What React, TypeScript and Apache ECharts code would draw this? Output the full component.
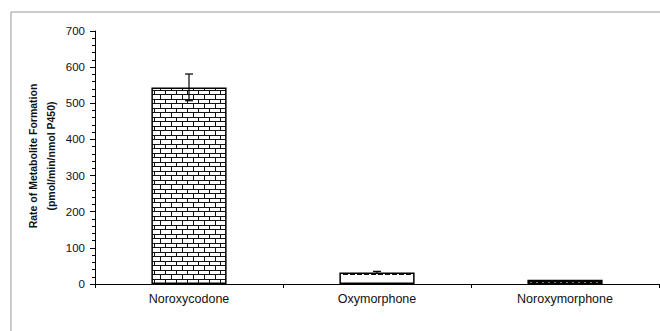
import React, { useEffect, useRef } from "react";
import * as echarts from "echarts";

const categories = ["Noroxycodone", "Oxymorphone", "Noroxymorphone"];
const rates = [544, 32, 12];
const errors = [37, 3, 0];
const yTicks = [0, 100, 200, 300, 400, 500, 600, 700];
const titleLines = ["Rate of Metabolite Formation", "(pmol/min/nmol P450)"];

const svgUrl = (s: string) => "data:image/svg+xml;charset=utf-8," + encodeURIComponent(s);

const brick = svgUrl(
  "<svg xmlns='http://www.w3.org/2000/svg' width='11' height='9'>" +
    "<rect width='11' height='9' fill='#fff'/>" +
    "<g stroke='#111' stroke-width='1' shape-rendering='crispEdges'>" +
    "<line x1='0' y1='0.5' x2='11' y2='0.5'/>" +
    "<line x1='0' y1='4.5' x2='11' y2='4.5'/>" +
    "<line x1='0.5' y1='0' x2='0.5' y2='4.5'/>" +
    "<line x1='6' y1='4.5' x2='6' y2='9'/>" +
    "</g></svg>"
);
const dashed = svgUrl(
  "<svg xmlns='http://www.w3.org/2000/svg' width='7' height='10'>" +
    "<rect width='7' height='10' fill='#fff'/>" +
    "<rect x='0' y='4' width='5' height='1' fill='#111'/>" +
    "</svg>"
);
const dotted = svgUrl(
  "<svg xmlns='http://www.w3.org/2000/svg' width='6' height='5'>" +
    "<rect width='6' height='5' fill='#000'/>" +
    "<rect x='2' y='2' width='2' height='1' fill='#fff'/>" +
    "</svg>"
);

const patterns = [
  { image: brick, imageWidth: 11, imageHeight: 9 },
  { image: dashed, imageWidth: 7, imageHeight: 10 },
  { image: dotted, imageWidth: 6, imageHeight: 5 },
];

export default function App() {
  const ref = useRef<HTMLDivElement>(null);
  useEffect(() => {
    document.body.style.margin = "0";
    if (!ref.current) return;
    const chart = echarts.init(ref.current, null, { renderer: "svg" });
    const font = "'Liberation Sans', Arial, sans-serif";
    chart.setOption({
      animation: false,
      backgroundColor: "#fff",
      grid: { left: 95, right: 1, top: 31, bottom: 47, containLabel: false },
      xAxis: {
        type: "category",
        data: categories,
        axisLine: { lineStyle: { color: "#000", width: 1 } },
        axisTick: { show: true, length: 4, lineStyle: { color: "#000" } },
        axisLabel: { color: "#111", fontFamily: font, fontSize: 12.5, margin: 8 },
      },
      yAxis: {
        type: "value",
        min: 0,
        max: 700,
        interval: 100,
        splitLine: { show: false },
        axisLine: { show: true, lineStyle: { color: "#000", width: 1 } },
        axisTick: { show: true, length: 5, lineStyle: { color: "#000" } },
        minorTick: { show: true, splitNumber: 5, length: 3, lineStyle: { color: "#000" } },
        axisLabel: {
          color: "#111",
          fontFamily: font,
          fontSize: 11.5,
          margin: 10,
          formatter: (v: number) => (yTicks.includes(v) ? String(v) : ""),
        },
      },
      graphic: [
        {
          type: "rect",
          shape: { x: 11, y: 12, width: 800, height: 500 },
          style: { fill: "none", stroke: "#999", lineWidth: 1 },
          z: -1,
          silent: true,
        },
        ...titleLines.map((t, i) => ({
          type: "text",
          x: 33 + i * 18,
          y: 156,
          rotation: Math.PI / 2,
          style: {
            text: t,
            fontFamily: font,
            fontWeight: "bold",
            fontSize: 10.5,
            fill: "#111",
            align: "center",
            verticalAlign: "middle",
          },
        })),
      ],
      series: [
        {
          type: "bar",
          barWidth: "40%",
          data: rates.map((v, i) => ({
            value: v,
            itemStyle: {
              color: { ...patterns[i], repeat: "repeat" },
              borderColor: "#000",
              borderWidth: 1.5,
            },
          })),
        },
        {
          type: "custom",
          data: categories.map((c, i) => [i, rates[i], errors[i]]),
          z: 10,
          renderItem: (params: any, api: any) => {
            const x = api.value(0);
            const y = api.value(1);
            const e = api.value(2);
            if (!e) return null;
            const top = api.coord([x, y + e]);
            const bot = api.coord([x, y - e]);
            const hw = 4;
            const st = { stroke: "#000", lineWidth: 1.2 };
            return {
              type: "group",
              children: [
                { type: "line", shape: { x1: top[0], y1: top[1], x2: bot[0], y2: bot[1] }, style: st },
                { type: "line", shape: { x1: top[0] - hw, y1: top[1], x2: top[0] + hw, y2: top[1] }, style: st },
                { type: "line", shape: { x1: bot[0] - hw, y1: bot[1], x2: bot[0] + hw, y2: bot[1] }, style: st },
              ],
            };
          },
        },
      ],
    });
    return () => chart.dispose();
  }, []);
  return <div ref={ref} style={{ width: 660, height: 331 }} />;
}
